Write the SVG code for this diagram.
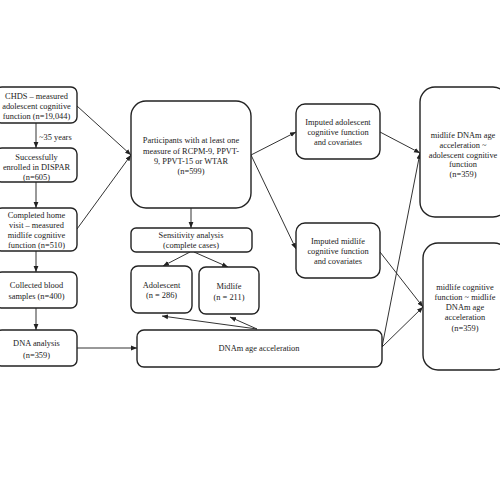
<svg xmlns="http://www.w3.org/2000/svg" width="500" height="500" viewBox="0 0 500 500">
<defs>
<marker id="ah" viewBox="0 0 10 10" refX="10" refY="5" markerWidth="6" markerHeight="6" markerUnits="userSpaceOnUse" orient="auto">
<path d="M0,1 L10,5 L0,9 z" fill="#222"/>
</marker>
</defs>
<style>
.box{fill:#fff;stroke:#222;stroke-width:1.4}
.t{font-family:"Liberation Serif","Times New Roman",serif;font-size:8.4px;fill:#222;text-anchor:middle}
.c{fill:none;stroke:#333;stroke-width:1;marker-end:url(#ah)}
</style>
<rect width="500" height="500" fill="#fff"/>
<g id="connectors">
<line class="c" x1="36" y1="123" x2="36" y2="148"/>
<line class="c" x1="36" y1="182" x2="36" y2="208"/>
<line class="c" x1="36" y1="251" x2="36" y2="272"/>
<line class="c" x1="36" y1="308" x2="36" y2="330"/>
<line class="c" x1="77" y1="106" x2="131" y2="155"/>
<line class="c" x1="77" y1="229" x2="131" y2="155"/>
<line class="c" x1="77" y1="348" x2="137" y2="348"/>
<line class="c" x1="191" y1="208" x2="191" y2="228"/>
<line class="c" x1="190" y1="252" x2="163" y2="266"/>
<line class="c" x1="194" y1="252" x2="228" y2="267"/>
<line class="c" x1="257" y1="329" x2="162" y2="316"/>
<line class="c" x1="257" y1="329" x2="230" y2="317"/>
<line class="c" x1="251" y1="155" x2="296" y2="132"/>
<line class="c" x1="251" y1="155" x2="296" y2="249"/>
<line class="c" x1="380" y1="132" x2="420" y2="153"/>
<line class="c" x1="382" y1="347" x2="420" y2="153"/>
<line class="c" x1="380" y1="252" x2="423" y2="307"/>
<line class="c" x1="382" y1="347" x2="423" y2="307"/>
</g>
<text class="t" x="39" y="140" style="text-anchor:start">~35 years</text>
<g id="chds"><rect class="box" x="-4" y="87" width="81" height="36" rx="6"/>
<text class="t" x="36.5" y="99">CHDS – measured</text><text class="t" x="36.5" y="109">adolescent cognitive</text><text class="t" x="36.5" y="119">function (n=19,044)</text></g>
<g id="enrolled"><rect class="box" x="-4" y="148" width="81" height="34" rx="6"/>
<text class="t" x="36.5" y="160">Successfully</text><text class="t" x="36.5" y="170">enrolled in DISPAR</text><text class="t" x="36.5" y="180">(n=605)</text></g>
<g id="homevisit"><rect class="box" x="-4" y="208" width="81" height="43" rx="6"/>
<text class="t" x="36.5" y="218">Completed home</text><text class="t" x="36.5" y="228">visit – measured</text><text class="t" x="36.5" y="238">midlife cognitive</text><text class="t" x="36.5" y="248">function (n=510)</text></g>
<g id="blood"><rect class="box" x="-4" y="272" width="81" height="36" rx="6"/>
<text class="t" x="36.5" y="288">Collected blood</text><text class="t" x="36.5" y="299">samples (n=400)</text></g>
<g id="dna"><rect class="box" x="-4" y="330" width="81" height="36" rx="6"/>
<text class="t" x="36.5" y="346">DNA analysis</text><text class="t" x="36.5" y="358">(n=359)</text></g>
<g id="participants"><rect class="box" x="131" y="101" width="120" height="107" rx="15"/>
<text class="t" x="191" y="143">Participants with at least one</text><text class="t" x="191" y="153.5">measure of RCPM-9, PPVT-</text><text class="t" x="191" y="164">9, PPVT-15 or WTAR</text><text class="t" x="191" y="173.5">(n=599)</text></g>
<g id="sensitivity"><rect class="box" x="131" y="228" width="121" height="24" rx="5"/>
<text class="t" x="191" y="238">Sensitivity analysis</text><text class="t" x="191" y="248">(complete cases)</text></g>
<g id="adolescent"><rect class="box" x="131" y="266" width="61" height="47" rx="7"/>
<text class="t" x="161.5" y="288">Adolescent</text><text class="t" x="161.5" y="298">(n = 286)</text></g>
<g id="midlife"><rect class="box" x="199" y="267" width="60" height="47" rx="7"/>
<text class="t" x="229" y="289">Midlife</text><text class="t" x="229" y="300">(n = 211)</text></g>
<g id="dnam"><rect class="box" x="137" y="330" width="245" height="37" rx="7"/>
<text class="t" x="259" y="351">DNAm age acceleration</text></g>
<g id="impadol"><rect class="box" x="296" y="104" width="84" height="55" rx="9"/>
<text class="t" x="338" y="124.5">Imputed adolescent</text><text class="t" x="338" y="134.5">cognitive function</text><text class="t" x="338" y="144.5">and covariates</text></g>
<g id="impmid"><rect class="box" x="296" y="223" width="84" height="55" rx="9"/>
<text class="t" x="338" y="243.5">Imputed midlife</text><text class="t" x="338" y="253.5">cognitive function</text><text class="t" x="338" y="263.5">and covariates</text></g>
<g id="model1"><rect class="box" x="420" y="87" width="88" height="130" rx="15"/>
<text class="t" x="463" y="138">midlife DNAm age</text><text class="t" x="463" y="148">acceleration ~</text><text class="t" x="463" y="157.5">adolescent cognitive</text><text class="t" x="463" y="166.5">function</text><text class="t" x="463" y="176.5">(n=359)</text></g>
<g id="model2"><rect class="box" x="423" y="243" width="86" height="127" rx="15"/>
<text class="t" x="465" y="290">midlife cognitive</text><text class="t" x="465" y="300">function  ~ midlife</text><text class="t" x="465" y="310">DNAm age</text><text class="t" x="465" y="320">acceleration</text><text class="t" x="465" y="331">(n=359)</text></g>
</svg>
